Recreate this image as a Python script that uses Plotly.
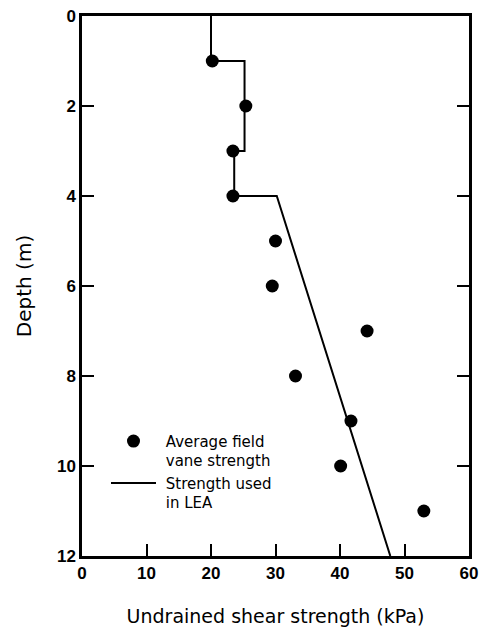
import plotly.graph_objects as go

# Average field vane strength (kPa) vs depth (m)
vane_strength = [20.2, 25.4, 23.4, 23.4, 30.0, 29.5, 44.2, 33.1, 41.7, 40.1, 53.0]
vane_depth = [1, 2, 3, 4, 5, 6, 7, 8, 9, 10, 11]

# Strength profile used in LEA
lea_strength = [20.0, 20.0, 25.2, 25.2, 23.6, 23.6, 30.2, 47.8]
lea_depth = [0, 1, 1, 3, 3, 4, 4, 12]

x_ticks = [0, 10, 20, 30, 40, 50, 60]
y_ticks = [0, 2, 4, 6, 8, 10, 12]

TICKFONT = "Liberation Sans, Arial, sans-serif"
TEXTFONT = "DejaVu Sans, sans-serif"

fig = go.Figure()
fig.add_trace(go.Scatter(
    x=vane_strength, y=vane_depth, mode="markers",
    marker=dict(color="black", size=13),
    name="\u00a0Average field<br>\u00a0vane strength",
))
fig.add_trace(go.Scatter(
    x=lea_strength, y=lea_depth, mode="lines",
    line=dict(color="black", width=2),
    name="\u00a0Strength used<br>\u00a0in LEA",
))

fig.update_layout(
    width=481, height=628,
    margin=dict(l=82, r=12, t=16, b=72),
    plot_bgcolor="white", paper_bgcolor="white",
    font=dict(family=TEXTFONT, color="black"),
    showlegend=True,
    legend=dict(
        x=0.062, y=0.243, xanchor="left", yanchor="top",
        bgcolor="rgba(0,0,0,0)", valign="top",
        itemwidth=45,
        font=dict(size=15, family=TEXTFONT, color="black"),
        tracegroupgap=0,
    ),
)
fig.update_xaxes(
    range=[0, 60], tickvals=x_ticks, ticktext=["<b>%d</b>" % v for v in x_ticks],
    showgrid=False, zeroline=False, automargin=False,
    showline=True, linecolor="black", linewidth=2.5, mirror=True,
    ticks="inside", ticklen=12, tickwidth=2, tickcolor="black",
    tickfont=dict(size=17, family=TICKFONT),
    title=dict(text="Undrained shear strength (kPa)", font=dict(size=19, family=TEXTFONT), standoff=28),
)
fig.update_yaxes(
    range=[12, 0], tickvals=y_ticks, ticktext=["<b>%d</b>" % v for v in y_ticks],
    showgrid=False, zeroline=False, automargin=False,
    showline=True, linecolor="black", linewidth=2.5, mirror="ticks",
    ticks="inside", ticklen=12, tickwidth=2, tickcolor="black",
    tickfont=dict(size=17, family=TICKFONT),
    title=dict(text="Depth (m)", font=dict(size=20, family=TEXTFONT), standoff=20),
)

fig.write_html(
    "out.html",
    config={"displayModeBar": False},
    post_script="document.body.style.margin='0';document.body.style.overflow='hidden';",
)
